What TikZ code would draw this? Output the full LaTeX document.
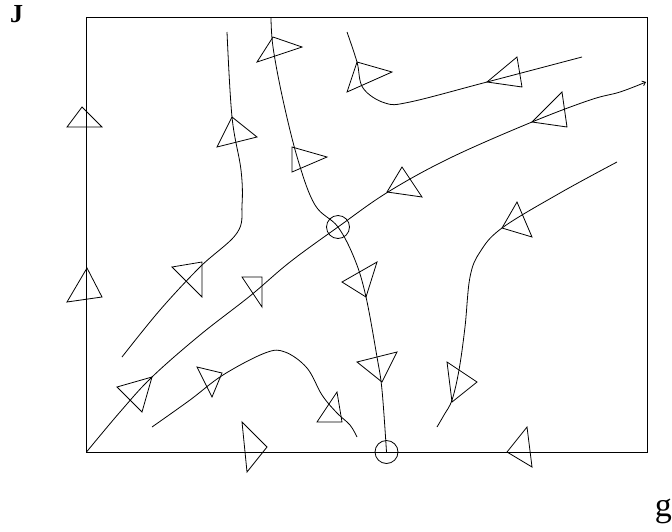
\documentclass[tikz,border=0pt]{standalone}
\usepackage{fontspec}
\setmainfont{Liberation Serif}
\usetikzlibrary{arrows.meta}
\tikzset{
  curve/.style={line width=0.8pt, smooth, tension=0.6},
  tri/.style={line width=0.8pt, line join=miter},
  eq/.style={circle, draw, line width=0.8pt, minimum size=23pt, inner sep=0pt},
  lbl/.style={inner sep=0pt, font=\fontsize{34}{34}\selectfont}
}
\begin{document}
\begin{tikzpicture}[x=1pt,y=-1pt]
\useasboundingbox (0,0) rectangle (672,531);
% frame
\coordinate (BL) at (86.5,452);
\coordinate (TR) at (647,17);
\draw[line width=0.8pt] (BL) rectangle (TR);
% labels
\node[lbl, anchor=base west, font=\fontsize{26}{26}\selectfont\bfseries] (lJ) at (10,22) {J};
\node[lbl, anchor=base east] (lg) at (672,516) {g};
% equilibrium points
\node[eq] (e1) at (338,227) {};
\node[eq] (e2) at (386.5,452) {};
% trajectories
\draw[curve, -{Straight Barb[length=3pt,width=5pt]}] plot coordinates {(86.5,452) (120,412) (152,377) (200,335) (250,296) (290,262) (338,227) (388,192) (450,158) (532,122) (590,100) (620,92) (646,82)};
\draw[curve] plot coordinates {(271,17) (273,47) (283,100) (298,160) (315,205) (338,227) (355,260) (366,297) (377,357) (382,390) (386.5,452)};
\draw[curve] plot coordinates {(122,357) (160,310) (200,267) (237,233) (242,205) (241,170) (232,117) (227,32)};
\draw[curve] plot coordinates {(347,32) (357,62) (363,88) (385,103) (410,102) (487,82) (582,57)};
\draw[curve] plot coordinates {(617,162) (560,193) (502,228) (480,252) (470,277) (465,327) (459,370) (452,400) (444,415) (437,427)};
\draw[curve] plot coordinates {(152,427) (190,400) (223,375) (265,353) (285,352) (307,368) (322,395) (337,413) (350,425) (357,437)};
% direction triangles
\draw[tri] (82,107) -- (67,127) -- (102,127) -- cycle;
\draw[tri] (87,268) -- (67,302) -- (102,297) -- cycle;
\draw[tri] (273,37) -- (257,62) -- (302,47) -- cycle;
\draw[tri] (232,117) -- (217,147) -- (257,137) -- cycle;
\draw[tri] (292,147) -- (292,172) -- (327,157) -- cycle;
\draw[tri] (357,62) -- (347,92) -- (392,72) -- cycle;
\draw[tri] (487,82) -- (517,57) -- (522,87) -- cycle;
\draw[tri] (532,122) -- (562,92) -- (567,127) -- cycle;
\draw[tri] (402,167) -- (387,192) -- (422,197) -- cycle;
\draw[tri] (502,228) -- (517,202) -- (532,237) -- cycle;
\draw[tri] (172,267) -- (202,262) -- (202,297) -- cycle;
\draw[tri] (242,277) -- (262,277) -- (262,307) -- cycle;
\draw[tri] (117,387) -- (152,377) -- (142,412) -- cycle;
\draw[tri] (197,367) -- (222,373) -- (212,397) -- cycle;
\draw[tri] (317,422) -- (337,392) -- (342,422) -- cycle;
\draw[tri] (242,422) -- (267,447) -- (247,472) -- cycle;
\draw[tri] (342,282) -- (377,262) -- (366,297) -- cycle;
\draw[tri] (357,362) -- (397,352) -- (382,382) -- cycle;
\draw[tri] (447,362) -- (477,382) -- (452,402) -- cycle;
\draw[tri] (507,452) -- (527,427) -- (532,467) -- cycle;
\end{tikzpicture}
\end{document}
